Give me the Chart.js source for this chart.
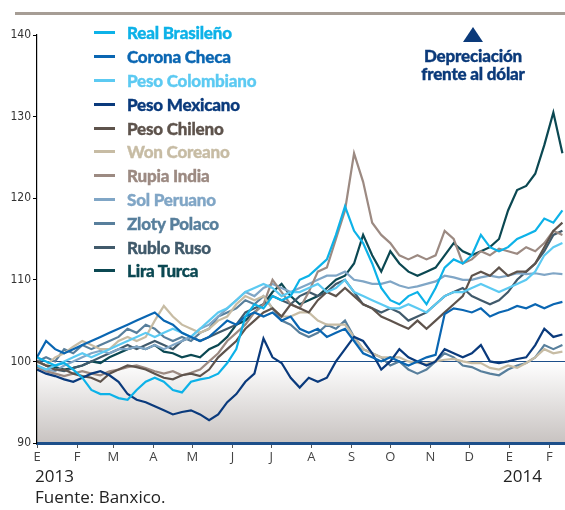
<!DOCTYPE html>
<html>
<head>
<meta charset="utf-8">
<script src="https://cdn.jsdelivr.net/npm/chart.js@4.4.0/dist/chart.umd.min.js"></script>
<style>
body { margin: 0; background: #fff; }
#wrap { position: relative; width: 565px; height: 510px; overflow: hidden; }
#barra { position: absolute; left: 15px; top: 12px; width: 550px; height: 3px; background: #a69d95; }
#leyenda { position: absolute; left: 94px; top: 21px; font-family: Lato, sans-serif; font-weight: 900; font-size: 17px; letter-spacing: -0.2px; }
.fila { height: 23.8px; display: flex; align-items: center; white-space: nowrap; -webkit-text-stroke: 0.35px currentColor; }
.fila .m { width: 21px; height: 3px; margin-right: 12px; }
#nota { position: absolute; left: 398px; top: 47px; width: 150px; text-align: center; font-family: Lato, sans-serif;
        font-weight: 900; font-size: 17px; line-height: 18px; color: #0b3a7a; letter-spacing: -0.2px;
        -webkit-text-stroke: 0.35px #0b3a7a; }
#flecha { position: absolute; left: 463px; top: 27px; width: 0; height: 0; border-left: 10.5px solid transparent;
          border-right: 10.5px solid transparent; border-bottom: 15px solid #0b3a7a; }
.pie { position: absolute; font-family: 'Open Sans', sans-serif; font-size: 17px; line-height: 22px; color: #222; }
</style>
</head>
<body>
<div id="wrap">
  <canvas id="c" width="565" height="510"></canvas>
  <div id="barra"></div>
  <div id="leyenda"></div>
  <div id="flecha"></div>
  <div id="nota">Depreciación<br>frente al dólar</div>
  <div class="pie" style="left:35px;top:465px">2013</div>
  <div class="pie" style="left:503px;top:465px">2014</div>
  <div class="pie" style="left:35px;top:486px">Fuente: Banxico.</div>
</div>
<script>
// dias desde el 1 de enero de 2013 (datos semanales)
var dias = [0,7,14,21,28,35,42,49,56,63,70,77,84,91,98,105,112,119,126,133,140,147,154,161,168,175,182,189,196,203,
            210,217,224,231,238,245,252,259,266,273,280,287,294,301,308,315,322,329,336,343,350,357,364,371,378,385,392,399,406];

var inicioMes = [0,31,59,90,120,151,181,212,243,273,304,334,365,396];
var meses = ['E','F','M','A','M','J','J','A','S','O','N','D','E','F'];

var realBrasileno = [100.5,100,99.5,99.8,99,98,96.5,96,96,95.5,95.3,96.5,97.5,98,97.5,96.5,96.2,97.5,97.8,98,
  98.5,99.8,101.5,105.5,107,106.5,108,107.5,108,110,110.5,111.5,112.5,115.5,119,116,114.5,112,109,107.5,
  107,108,108.5,107,109,111.5,112.5,112,113,115.5,114,113.5,114,115,115.5,116,117.5,117,118.5];
var coronaCheca = [100.5,102.5,101.5,101,101.5,102,102.5,103,103.5,104,104.5,105,105.5,106,105,104.5,103.5,103,102.5,103,
  104,105,104.5,105.5,106,105.5,106,105,105.5,104,103.5,104,103,103.5,104,102.5,101,100.5,100,100.5,
  100,99.5,100,100.5,100.8,105.8,106.5,106.3,106,106.5,105.5,106,106.3,106.8,106.5,107,106.5,107,107.3];
var pesoColombiano = [99.5,99,99.5,100,100.5,101,100.5,101,101.5,102,102.5,103,103.5,103,103.5,104,103.5,103,104,105,
  106,106.5,107.5,108.5,109,109.5,109,108,108.5,108.5,109,109.5,108.5,109,110,108.5,108,107.5,107,106.5,
  106.5,107,106.5,106,107,108,108.5,108.5,109,109.5,109,108.5,109,109.5,110,111,113,114,114.5];
var pesoMexicano = [99,98.5,98.2,97.8,97.5,98,98.5,98.8,98.3,97.5,96,95.3,95,94.5,94,93.5,93.8,94,93.5,92.8,
  93.5,95,96,97.5,98.5,102.8,100.5,99.8,98,96.8,98,97.5,98,100,101.5,103,102.5,101,99,100,
  101.5,100.5,100,99.5,100,101.5,101,100.5,101,102,100,99.8,100,100.3,100.5,102,104,103,103.3];
var pesoChileno = [100,99.5,99,99,98.5,98.2,98,97.5,98.5,99,99.5,99.3,99,98.5,98,97.8,98.3,98.5,98.2,99,
  100.5,101.5,102.5,104,105,106,106.5,105.5,107,106.5,106,107.5,108.5,108,109,108,107,106.5,105.5,105,
  104.5,104,105,104,105,106,107,108,110.5,111,110.5,111.5,110.5,111,111,112,114,116,117];
var wonCoreano = [100,99.5,100.5,101,101.8,102.5,102,101.5,101.5,102.5,103,102.5,103,105,106.8,105.5,104.5,104,103.5,104,
  105,105.5,107,108,107.5,108,106.5,105.5,105.5,106,106,105,104.5,104.5,104.5,103,101.5,101,100.5,100.5,
  100.5,100,99.8,99.7,100,100.2,100.3,100,99.8,99.8,99.2,99,99.5,99.2,99.8,100.5,101.5,101,101.2];
var rupiaIndia = [99.3,98.8,98.5,98.2,98.5,98.8,98.5,98.3,98.8,99,99.3,99.5,99.2,98.8,98.5,98.8,98.3,98.6,99,100,
  101,102.5,103.5,104.5,106,107,110,108.5,107,106.5,108.5,111,111.5,115,118.5,125.5,122,117,115.5,114.5,
  113,112.5,113,112.5,113,116,115,112,112.5,113.5,113,113.8,113.5,113.2,114,113.5,114.5,116,115.5];
var solPeruano = [99.5,99,98.8,99.5,100,100.5,101,101.3,101,101.5,101.5,101.8,101.5,102,101.5,102,102.5,103,104,104.5,
  105.5,106.5,107.5,108.5,108,109,109.5,109,108.5,109,109.5,110,110.5,110.5,111,110,109.8,109.5,109.5,109.8,
  109.3,109,109.2,109.5,109.8,110.5,110.3,110,110,110.3,110.5,110.3,110.5,110.8,110.7,110.8,110.6,110.8,110.7];
var zlotyPolaco = [100,100.5,100,101.5,101,102,101.5,102,102.5,103,104,103.5,104.5,104,103,102.5,103,102.5,103.5,104,
  105.5,106,106.5,107.5,107,108,106.5,105,104.5,103.5,103,103.5,104.5,104,105,103,101.5,101,100.5,99.5,
  100,99,98.5,99,100,101,100.5,99.5,99.3,98.8,98.5,98.3,99,99.5,99.8,100.5,102,101.5,102];
var rubloRuso = [100,99.5,99,98.8,99.2,99.5,100,100.5,101,101.5,102,101.5,102,102.5,102,101.5,102.5,103,102.5,103,
  103.5,104,104.5,106,106.5,107,108,107.5,107,108,108.5,108,108.5,109.5,110,108.5,107,106.5,106,106.5,
  106,105,105.5,106,107,108,108.5,109,108,107.5,107,107.5,108.5,110,111,112,113.5,115.5,116];
var liraTurca = [100,99.5,99.3,99,99.2,99.5,100,99.8,100.5,101,101.5,101.8,101.5,102,101.2,101,100.5,100.8,100.5,101.5,
  102,103,104.5,105,106,107,108.5,109.5,108,107,107.5,108,109,110,110.5,112,115.5,113,111,113.5,
  112,111,110.5,111,111.5,113,114.5,113.5,113,113.5,114,115,118.5,121,121.5,123,126.5,130.5,125.5];

var nombres = ['Real Brasileño','Corona Checa','Peso Colombiano','Peso Mexicano','Peso Chileno','Won Coreano',
               'Rupia India','Sol Peruano','Zloty Polaco','Rublo Ruso','Lira Turca'];
var series = [realBrasileno, coronaCheca, pesoColombiano, pesoMexicano, pesoChileno, wonCoreano,
              rupiaIndia, solPeruano, zlotyPolaco, rubloRuso, liraTurca];
var colores = ['#0db2e8','#0a66b2','#5ccaf2','#0a3a7c','#5e534c','#c7bca4',
               '#9c8a82','#80a6c6','#587f9c','#415a6b','#0b4852'];

var datasets = [];
for (var i = 0; i < series.length; i++) {
    datasets.push({
        label: nombres[i],
        data: series[i].map(function (v, k) { return {x: dias[k], y: v}; }),
        borderColor: colores[i],
        borderWidth: 2.2,
        pointRadius: 0,
        tension: 0,
        fill: false
    });
}

// fondo degradado bajo 100 y linea de referencia
var fondo = {
    id: 'fondo',
    beforeDraw: function (chart) {
        var ctx = chart.ctx, a = chart.chartArea, y = chart.scales.y;
        var y100 = y.getPixelForValue(100), y90 = y.getPixelForValue(90);
        var g = ctx.createLinearGradient(0, y100, 0, y90);
        g.addColorStop(0, '#ffffff');
        g.addColorStop(1, '#c8c3c1');
        ctx.save();
        ctx.fillStyle = g;
        ctx.fillRect(a.left, y100, a.right - a.left, y90 - y100);
        ctx.strokeStyle = '#1d4f8a';
        ctx.lineWidth = 1;
        ctx.beginPath();
        ctx.moveTo(a.left, Math.round(y100) + 0.5);
        ctx.lineTo(a.right, Math.round(y100) + 0.5);
        ctx.stroke();
        ctx.restore();
    }
};

var chart = new Chart(document.getElementById('c'), {
    type: 'line',
    data: { datasets: datasets },
    options: {
        responsive: false,
        animation: false,
        layout: { padding: { top: 35, right: 0, left: 0, bottom: 0 } },
        plugins: { legend: { display: false }, tooltip: { enabled: false } },
        scales: {
            x: {
                type: 'linear', min: 0, max: 408,
                afterBuildTicks: function (s) { s.ticks = inicioMes.map(function (v) { return {value: v}; }); },
                ticks: {
                    callback: function (v, i) { return meses[i]; },
                    autoSkip: false, maxRotation: 0, padding: 1,
                    color: '#444', font: { family: "'Open Sans', sans-serif", size: 13 }
                },
                grid: { drawOnChartArea: false, tickLength: 5, color: '#555' },
                border: { color: '#1d4f8a', width: 3, z: 1 },
                afterFit: function (s) { s.height = 67; }
            },
            y: {
                min: 90, max: 140,
                ticks: {
                    stepSize: 10, padding: 2, color: '#333',
                    font: { family: "'Liberation Sans Narrow', 'DejaVu Sans Condensed', sans-serif", size: 12 }
                },
                grid: { drawOnChartArea: false, tickLength: 4, color: '#000' },
                border: { color: '#000', width: 1.2, z: 1 },
                afterFit: function (s) { s.width = 37; }
            }
        }
    },
    plugins: [fondo]
});

// leyenda propia dentro del grafico
var ley = document.getElementById('leyenda');
for (var j = 0; j < nombres.length; j++) {
    var f = document.createElement('div');
    f.className = 'fila';
    f.style.color = colores[j];
    f.innerHTML = '<span class="m" style="background:' + colores[j] + '"></span>' + nombres[j];
    ley.appendChild(f);
}
</script>
</body>
</html>
